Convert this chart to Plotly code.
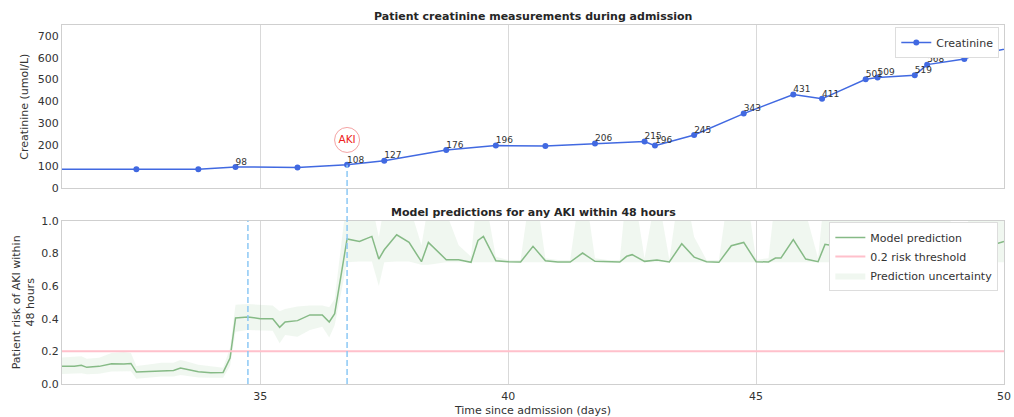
import plotly.graph_objects as go

# ---------------- data ----------------
CREAT_DAYS = [30.5, 32.5, 33.75, 34.5, 35.75, 36.75, 37.5, 38.75, 39.75, 40.75, 41.75, 42.75,
              42.96, 43.75, 44.75, 45.75, 46.33, 47.21, 47.45, 48.2, 48.45, 49.2, 49.46, 50.3]
CREAT_VALUES = [87, 87, 87, 98, 96, 108, 127, 176, 196, 194, 206, 215,
                196, 245, 343, 431, 411, 501, 509, 519, 568, 594, 615, 652]
CREAT_LABELS = ["", "", "", "98", "", "108", "127", "176", "196", "", "206", "215",
                "196", "245", "343", "431", "411", "501", "509", "519", "568", "594", "615", ""]

PRED_DAYS = [31.0, 31.25, 31.39, 31.5, 31.75, 32.0, 32.25, 32.39, 32.5, 32.75, 33.0, 33.25,
             33.39, 33.5, 33.75, 34.0, 34.25, 34.39, 34.5, 34.75, 35.0, 35.25, 35.39, 35.5,
             35.75, 36.0, 36.25, 36.39, 36.5, 36.75, 37.0, 37.25, 37.39, 37.5, 37.75, 38.0,
             38.25, 38.39, 38.5, 38.75, 39.0, 39.25, 39.39, 39.5, 39.75, 40.0, 40.25, 40.5,
             40.75, 41.0, 41.25, 41.5, 41.75, 42.0, 42.25, 42.39, 42.5, 42.75, 43.0, 43.25,
             43.5, 43.75, 44.0, 44.25, 44.5, 44.75, 45.0, 45.25, 45.39, 45.5, 45.75, 46.0,
             46.25, 46.39, 46.5, 46.75, 47.0, 47.25, 47.39, 47.5, 47.75, 48.0, 48.25, 48.39,
             48.5, 48.75, 49.0, 49.25, 49.39, 49.5, 49.75, 50.0]
PRED_VALUES = [0.108, 0.108, 0.114, 0.102, 0.108, 0.124, 0.122, 0.126, 0.073, 0.077, 0.083, 0.083,
               0.098, 0.092, 0.075, 0.069, 0.071, 0.159, 0.404, 0.410, 0.400, 0.400, 0.347, 0.380,
               0.388, 0.423, 0.423, 0.380, 0.431, 0.888, 0.873, 0.904, 0.765, 0.822, 0.914, 0.867,
               0.749, 0.867, 0.833, 0.761, 0.761, 0.745, 0.879, 0.904, 0.755, 0.748, 0.747, 0.843,
               0.755, 0.747, 0.747, 0.802, 0.751, 0.747, 0.747, 0.782, 0.792, 0.751, 0.759, 0.747,
               0.859, 0.777, 0.749, 0.745, 0.847, 0.867, 0.749, 0.747, 0.771, 0.771, 0.884, 0.765,
               0.749, 0.855, 0.850, 0.800, 0.760, 0.820, 0.800, 0.780, 0.850, 0.800, 0.770, 0.830,
               0.800, 0.780, 0.750, 0.760, 0.840, 0.860, 0.850, 0.873]
PRED_LOWER = [0.061, 0.062, 0.066, 0.060, 0.063, 0.077, 0.076, 0.078, 0.032, 0.040, 0.046, 0.046,
              0.055, 0.050, 0.040, 0.038, 0.038, 0.110, 0.320, 0.330, 0.328, 0.326, 0.250, 0.300,
              0.290, 0.330, 0.350, 0.285, 0.360, 0.745, 0.750, 0.750, 0.600, 0.745, 0.750, 0.750,
              0.730, 0.730, 0.735, 0.745, 0.745, 0.745, 0.745, 0.745, 0.745, 0.745, 0.745, 0.745,
              0.745, 0.745, 0.745, 0.745, 0.745, 0.745, 0.745, 0.745, 0.745, 0.745, 0.745, 0.745,
              0.745, 0.745, 0.745, 0.745, 0.745, 0.745, 0.745, 0.745, 0.745, 0.745, 0.745, 0.745,
              0.745, 0.745, 0.745, 0.745, 0.745, 0.745, 0.745, 0.745, 0.745, 0.745, 0.745, 0.745,
              0.745, 0.745, 0.745, 0.745, 0.745, 0.745, 0.745, 0.745]
PRED_UPPER = [0.163, 0.165, 0.170, 0.155, 0.160, 0.190, 0.196, 0.190, 0.110, 0.120, 0.130, 0.130,
              0.147, 0.140, 0.118, 0.108, 0.100, 0.220, 0.486, 0.490, 0.486, 0.480, 0.445, 0.460,
              0.475, 0.480, 0.480, 0.470, 0.520, 1.150, 1.200, 1.100, 0.900, 1.100, 1.250, 1.100,
              0.850, 1.100, 1.050, 1.050, 0.850, 0.780, 1.200, 1.200, 0.780, 0.760, 0.760, 1.300,
              0.770, 0.760, 0.760, 1.300, 0.770, 0.760, 0.760, 1.200, 1.250, 0.770, 1.200, 0.760,
              1.300, 0.900, 0.760, 0.760, 1.300, 1.300, 0.760, 0.770, 1.150, 1.200, 1.300, 1.050,
              0.770, 1.200, 1.200, 1.150, 1.100, 1.250, 1.200, 1.150, 1.300, 1.200, 1.100, 1.250,
              1.200, 1.100, 0.950, 0.950, 1.200, 1.300, 1.250, 1.200]

THRESHOLD = 0.2
ALERT_DAYS = [34.75, 36.75]
AKI_DAY = 36.75
AKI_VALUE = 108
X_RANGE = [31, 50]
X_TICKS = [35, 40, 45, 50]
CREAT_RANGE = [0, 750]
CREAT_TICKS = [0, 100, 200, 300, 400, 500, 600, 700]
RISK_TICKS = [0.0, 0.2, 0.4, 0.6, 0.8, 1.0]

# ---------------- style ----------------
FONT = "DejaVu Sans"
TXT = "#333333"
GRID = "#d9d9d9"
FRAME = "#cfcfcf"
BLUE = "#4169e1"
GREEN = "rgb(134,186,134)"
BAND = "rgba(120,185,120,0.11)"
PINK = "#ffc0cb"
DASH_BLUE = "#8cc8f5"

W, H = 1014, 417
ML, MR, MT, MB = 62, 10, 25, 33
ph = H - MT - MB
sub_h = 163.3 / ph
top_dom = [1 - sub_h, 1]
bot_dom = [0, sub_h]

fig = go.Figure()

# top: creatinine line + markers
fig.add_trace(go.Scatter(
    x=CREAT_DAYS, y=CREAT_VALUES, mode="lines+markers", name="Creatinine",
    line=dict(color=BLUE, width=1.5), marker=dict(color=BLUE, size=6),
    xaxis="x", yaxis="y", legend="legend"))
# value labels
fig.add_trace(go.Scatter(
    x=CREAT_DAYS, y=CREAT_VALUES, mode="text", text=CREAT_LABELS, textposition="top right",
    textfont=dict(family=FONT, size=9, color=TXT), showlegend=False,
    xaxis="x", yaxis="y", hoverinfo="skip"))

# AKI marker
fig.add_trace(go.Scatter(
    x=[AKI_DAY], y=[222], mode="markers+text", text=["AKI"], textposition="middle center",
    textfont=dict(family=FONT, size=10.5, color="#ee2020"),
    marker=dict(symbol="circle-open", size=25, color="#f4a3a3", line=dict(width=1)),
    showlegend=False, xaxis="x", yaxis="y", hoverinfo="skip"))

# bottom: uncertainty band
fig.add_trace(go.Scatter(
    x=PRED_DAYS, y=PRED_LOWER, mode="lines", line=dict(width=0, color=BAND),
    showlegend=False, xaxis="x2", yaxis="y2", hoverinfo="skip"))
fig.add_trace(go.Scatter(
    x=PRED_DAYS, y=PRED_UPPER, mode="lines", line=dict(width=0, color=BAND),
    fill="tonexty", fillcolor=BAND, name="Prediction uncertainty",
    xaxis="x2", yaxis="y2", legend="legend2", legendrank=3))
fig.add_trace(go.Scatter(
    x=PRED_DAYS, y=PRED_VALUES, mode="lines", name="Model prediction",
    line=dict(color=GREEN, width=1.5), xaxis="x2", yaxis="y2", legend="legend2", legendrank=1))
fig.add_trace(go.Scatter(
    x=X_RANGE, y=[THRESHOLD, THRESHOLD], mode="lines", name="0.2 risk threshold",
    line=dict(color=PINK, width=2), xaxis="x2", yaxis="y2", legend="legend2", legendrank=2))

shapes = []
shapes.append(dict(type="line", xref="x2", yref="y2 domain", x0=ALERT_DAYS[0], x1=ALERT_DAYS[0],
                   y0=0, y1=1, line=dict(color=DASH_BLUE, width=1.5, dash="6px,3px")))
y_top_pt = top_dom[0] + (top_dom[1] - top_dom[0]) * AKI_VALUE / CREAT_RANGE[1]
shapes.append(dict(type="line", xref="x2", yref="paper", x0=ALERT_DAYS[1], x1=ALERT_DAYS[1],
                   y0=0, y1=y_top_pt, line=dict(color=DASH_BLUE, width=1.5, dash="6px,3px")))

axis_common = dict(zeroline=False, automargin=False,
                   showline=True, linecolor=FRAME, linewidth=1, mirror=True,
                   ticks="", tickfont=dict(family=FONT, size=11, color=TXT))

fig.update_layout(
    width=W, height=H, margin=dict(l=ML, r=MR, t=MT, b=MB),
    paper_bgcolor="white", plot_bgcolor="white",
    font=dict(family=FONT, size=11, color=TXT),
    xaxis=dict(domain=[0, 1], range=X_RANGE, anchor="y", tickvals=X_TICKS,
               showticklabels=False, showgrid=True, gridcolor=GRID, **axis_common),
    yaxis=dict(domain=top_dom, range=CREAT_RANGE, anchor="x", tickvals=CREAT_TICKS, showgrid=False,
               title=dict(text="Creatinine (umol/L)", font=dict(size=11, color=TXT), standoff=6),
               **axis_common),
    xaxis2=dict(domain=[0, 1], range=X_RANGE, anchor="y2", tickvals=X_TICKS,
                showgrid=True, gridcolor=GRID, ticklabelstandoff=2,
                title=dict(text="Time since admission (days)", font=dict(size=11, color=TXT), standoff=5),
                **axis_common),
    yaxis2=dict(domain=bot_dom, range=[0, 1], anchor="x2", tickvals=RISK_TICKS, tickformat=".1f",
                showgrid=False,
                title=dict(text="Patient risk of AKI within<br>48 hours", font=dict(size=11, color=TXT), standoff=4),
                **axis_common),
    legend=dict(x=0.995, y=(H - MB - 27) / ph, xanchor="right", yanchor="top", bgcolor="white",
                bordercolor="#dddddd", borderwidth=1, font=dict(family=FONT, size=11, color=TXT)),
    legend2=dict(x=0.994, y=(H - MB - 222) / ph, xanchor="right", yanchor="top", bgcolor="white",
                 bordercolor="#dddddd", borderwidth=1, font=dict(family=FONT, size=11, color=TXT),
                 traceorder="normal"),
    shapes=shapes,
    annotations=[
        dict(text="<b>Patient creatinine measurements during admission</b>", xref="paper", yref="paper",
             x=0.5, y=1 + 8 / ph, xanchor="center", yanchor="middle", showarrow=False,
             font=dict(family=FONT, size=11, color="#262626")),
        dict(text="<b>Model predictions for any AKI within 48 hours</b>", xref="paper", yref="paper",
             x=0.5, y=sub_h + 8 / ph, xanchor="center", yanchor="middle", showarrow=False,
             font=dict(family=FONT, size=11, color="#262626")),
    ],
    showlegend=True,
)

fig.write_html("out.html", config={"displayModeBar": False},
               post_script="document.body.style.margin='0px';document.body.style.padding='0px';")
